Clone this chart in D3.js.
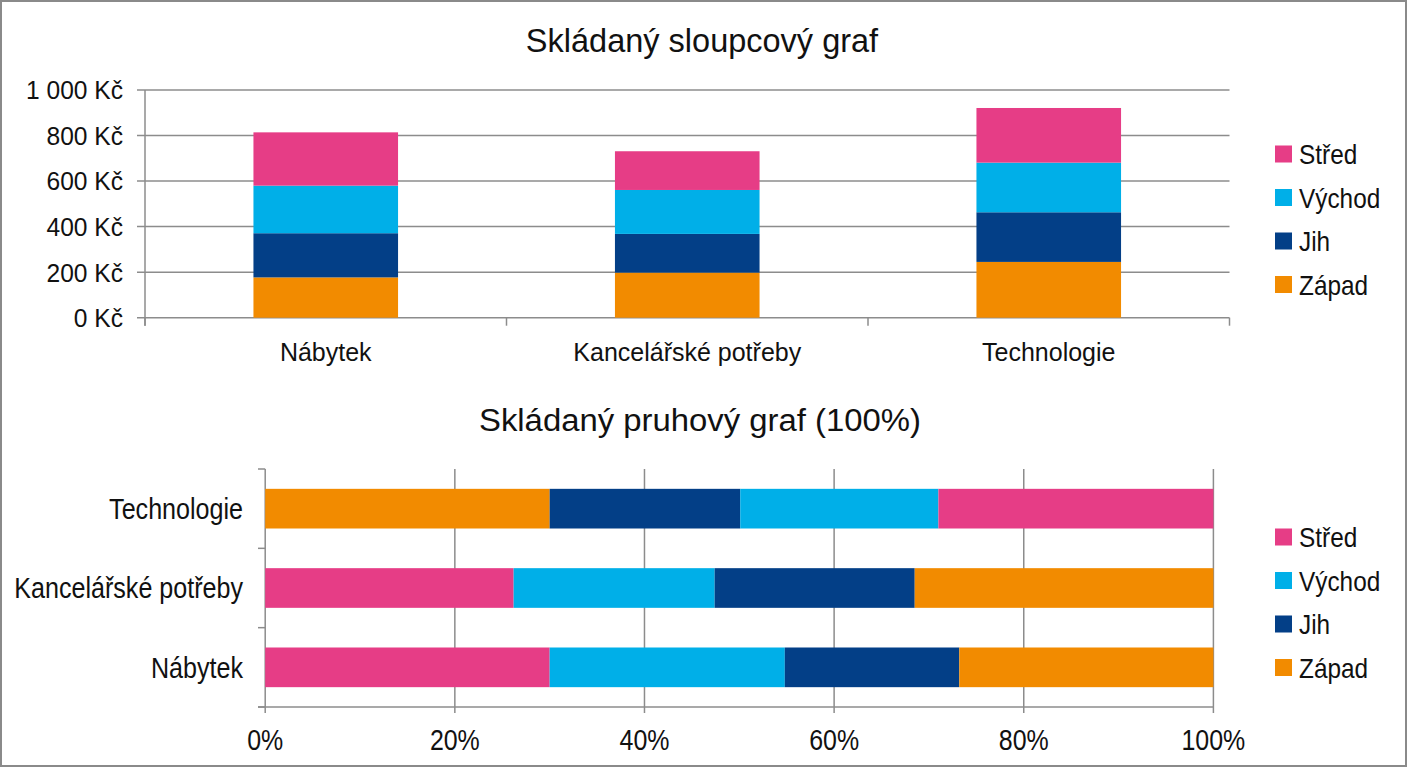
<!DOCTYPE html>
<html>
<head>
<meta charset="utf-8">
<script src="https://cdn.jsdelivr.net/npm/d3@7"></script>
<style>
  body { margin: 0; background: #fff; }
  svg { display: block; }
  text { font-family: "Liberation Sans", Arial, "Helvetica Neue", sans-serif; fill: #111; }
</style>
</head>
<body>
<svg id="graf"></svg>
<script>
const width = 1408;
const height = 768;

// kategorie a regiony
const kategorie = ["Nábytek", "Kancelářské potřeby", "Technologie"];
const regiony = ["Západ", "Jih", "Východ", "Střed"];   // poradi skladani odspodu
const legendaPoradi = ["Střed", "Východ", "Jih", "Západ"];

// skladany sloupcovy graf (Kč)
const zapad  = [177, 198, 245];
const jih    = [194, 170, 218];
const vychod = [209, 193, 218];
const stred  = [234, 170, 240];
const osaYTicks = [0, 200, 400, 600, 800, 1000];

// skladany pruhovy graf 100 % (podily v %)
const pZapad  = [26.8, 31.5, 30.0];
const pJih    = [18.4, 21.1, 20.1];
const pVychod = [24.8, 21.2, 20.9];
const pStred  = [30.0, 26.2, 29.0];
const pPoradi = [
  ["Střed", "Východ", "Jih", "Západ"],
  ["Střed", "Východ", "Jih", "Západ"],
  ["Západ", "Jih", "Východ", "Střed"]
];
const osaXTicks = [0, 20, 40, 60, 80, 100];

const barvy = { "Střed": "#e63d86", "Východ": "#00afe8", "Jih": "#033f87", "Západ": "#f28b00" };
const gridColor = "#8c8c8c";

const svg = d3.select("#graf")
    .attr("width", width)
    .attr("height", height);

// ramecek
svg.append("rect")
    .attr("x", 1).attr("y", 1)
    .attr("width", width - 3).attr("height", height - 3)
    .attr("fill", "none").attr("stroke", "#8a8a8a").attr("stroke-width", 2);

const csLocale = d3.formatLocale({ decimal: ",", thousands: " ", grouping: [3], currency: ["", " Kč"] });
const fmtKc = v => csLocale.format(",d")(v) + " Kč";

// pismo v originale je uzsi nez Arial -> stlacit text na sirku
function zuzit(sel, k) {
    sel.each(function () {
        const w = this.getComputedTextLength();
        d3.select(this).attr("textLength", w * k).attr("lengthAdjust", "spacingAndGlyphs");
    });
}

// ---------- horni graf ----------
const topData = kategorie.map((k, i) => ({ kat: k, "Západ": zapad[i], "Jih": jih[i], "Východ": vychod[i], "Střed": stred[i] }));

const x1 = d3.scaleBand().domain(kategorie).range([145, 1229.5]).paddingInner(0.6).paddingOuter(0.3);
const y1 = d3.scaleLinear().domain([0, 1000]).range([317.7, 90]);

svg.append("text")
    .attr("x", 702).attr("y", 52)
    .attr("text-anchor", "middle")
    .style("font-size", "32.5px")
    .text("Skládaný sloupcový graf");

const g1 = svg.append("g");

g1.selectAll(".grid1")
    .data(osaYTicks)
    .enter().append("line")
    .attr("x1", 137).attr("x2", 1229.5)
    .attr("y1", d => y1(d)).attr("y2", d => y1(d))
    .attr("stroke", gridColor).attr("stroke-width", 1.5);

const ylab1 = g1.selectAll(".ylab1")
    .data(osaYTicks)
    .enter().append("text")
    .attr("x", 123)
    .attr("y", d => y1(d))
    .attr("dy", "0.36em")
    .attr("text-anchor", "end")
    .style("font-size", "26px")
    .text(d => fmtKc(d));
zuzit(ylab1, 0.945);

const stack = d3.stack().keys(regiony);
g1.selectAll(".serie")
    .data(stack(topData))
    .enter().append("g")
    .attr("fill", d => barvy[d.key])
    .selectAll("rect")
    .data(d => d)
    .enter().append("rect")
    .attr("x", d => x1(d.data.kat))
    .attr("width", x1.bandwidth())
    .attr("y", d => y1(d[1]))
    .attr("height", d => y1(d[0]) - y1(d[1]));

// osy
g1.append("line")
    .attr("x1", 145).attr("x2", 145)
    .attr("y1", y1(1000)).attr("y2", y1(0) + 8)
    .attr("stroke", gridColor).attr("stroke-width", 1.5);

const hranice = [145].concat(kategorie.map(k => x1(k) + x1.bandwidth() + x1.step() * 0.3));
g1.selectAll(".xtick1")
    .data(hranice)
    .enter().append("line")
    .attr("x1", d => d).attr("x2", d => d)
    .attr("y1", y1(0)).attr("y2", y1(0) + 8)
    .attr("stroke", gridColor).attr("stroke-width", 1.5);

g1.selectAll(".xlab1")
    .data(kategorie)
    .enter().append("text")
    .attr("x", d => x1(d) + x1.bandwidth() / 2)
    .attr("y", 361)
    .attr("text-anchor", "middle")
    .style("font-size", "25px")
    .text(d => d);

// ---------- dolni graf ----------
const x2 = d3.scaleLinear().domain([0, 100]).range([265.2, 1213.4]);
const y2 = d3.scaleBand().domain(kategorie.slice().reverse()).range([469, 707]).paddingInner(0.5).paddingOuter(0.25);

const titul2 = svg.append("text")
    .attr("x", 700).attr("y", 431)
    .attr("text-anchor", "middle")
    .style("font-size", "31px")
    .text("Skládaný pruhový graf (100%)");
zuzit(titul2, 1.06);

const g2 = svg.append("g");

g2.selectAll(".grid2")
    .data(osaXTicks)
    .enter().append("line")
    .attr("x1", d => x2(d)).attr("x2", d => x2(d))
    .attr("y1", 469).attr("y2", 713)
    .attr("stroke", gridColor).attr("stroke-width", 1.5);

g2.append("line")
    .attr("x1", 258).attr("x2", x2(100))
    .attr("y1", 707).attr("y2", 707)
    .attr("stroke", gridColor).attr("stroke-width", 1.5);

const yHranice = [469].concat(y2.domain().map(k => y2(k) + y2.bandwidth() + y2.step() * 0.25));
g2.selectAll(".ytick2")
    .data(yHranice)
    .enter().append("line")
    .attr("x1", 258).attr("x2", x2(0))
    .attr("y1", d => d).attr("y2", d => d)
    .attr("stroke", gridColor).attr("stroke-width", 1.5);

const podily = { "Západ": pZapad, "Jih": pJih, "Východ": pVychod, "Střed": pStred };
const pruhy = [];
kategorie.forEach((k, i) => {
    let s = 0;
    pPoradi[i].forEach(r => {
        pruhy.push({ kat: k, region: r, x0: s, x1: s + podily[r][i] });
        s += podily[r][i];
    });
});
g2.selectAll(".pruh")
    .data(pruhy)
    .enter().append("rect")
    .attr("x", d => x2(d.x0))
    .attr("width", d => x2(d.x1) - x2(d.x0))
    .attr("y", d => y2(d.kat))
    .attr("height", y2.bandwidth())
    .attr("fill", d => barvy[d.region]);

const ylab2 = g2.selectAll(".ylab2")
    .data(kategorie)
    .enter().append("text")
    .attr("x", 243)
    .attr("y", d => y2(d) + y2.bandwidth() / 2)
    .attr("dy", "0.36em")
    .attr("text-anchor", "end")
    .style("font-size", "29px")
    .text(d => d);
zuzit(ylab2, 0.865);

const xlab2 = g2.selectAll(".xlab2")
    .data(osaXTicks)
    .enter().append("text")
    .attr("x", d => x2(d))
    .attr("y", 739.5)
    .attr("dy", "0.36em")
    .attr("text-anchor", "middle")
    .style("font-size", "29px")
    .text(d => d + "%");
zuzit(xlab2, 0.86);

// ---------- legendy ----------
function legenda(y0) {
    const lg = svg.append("g");
    const item = lg.selectAll(".leg")
        .data(legendaPoradi)
        .enter().append("g")
        .attr("transform", (d, i) => `translate(1275,${y0 + i * 43.5})`);
    item.append("rect")
        .attr("x", 0).attr("y", -8.5)
        .attr("width", 17).attr("height", 17)
        .attr("fill", d => barvy[d]);
    const t = item.append("text")
        .attr("x", 24).attr("y", 0)
        .attr("dy", "0.36em")
        .style("font-size", "28px")
        .text(d => d);
    zuzit(t, 0.87);
}
legenda(154);
legenda(537);
</script>
</body>
</html>
